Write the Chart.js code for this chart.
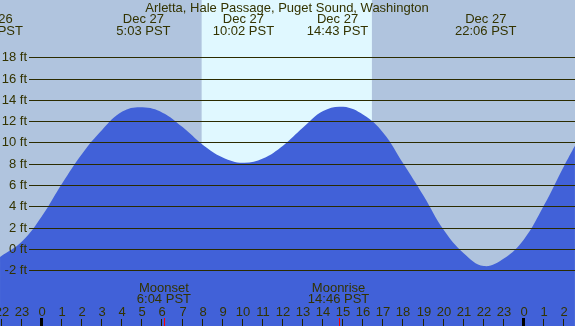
<!DOCTYPE html>
<html lang="en">
<head>
  <meta charset="UTF-8">
  <title>Arletta tide chart</title>
  <script src="https://cdn.jsdelivr.net/npm/chart.js@4.4.0/dist/chart.umd.min.js"></script>
  <style>
    body { margin: 0; background: #b0c4de; }
    canvas { display: block; }
  </style>
</head>
<body>
  <canvas id="tideChart" width="575" height="326"></canvas>
  <script>
    const title = 'Arletta, Hale Passage, Puget Sound, Washington';

    // hours after midnight Dec 27 (negative = Dec 26), tide height in ft
    const tideHours = [-2.09, -1, 0, 1, 2, 3, 4, 5, 6, 7, 8, 9, 10, 11, 12, 13, 14, 15, 16, 17, 18, 19, 20, 21, 22, 23, 24, 25, 26, 26.54];
    const tideFeet  = [-0.75, 0.7, 3.1, 6.15, 8.95, 11.2, 12.9, 13.3, 12.8, 11.45, 9.8, 8.6, 8.1, 8.5, 9.7, 11.4, 12.95, 13.35, 12.6, 10.9, 8.0, 5.0, 1.8, -0.4, -1.6, -0.9, 0.9, 4.1, 7.8, 9.7];

    const extremeHours = [-2.48, 5.05, 10.03, 14.72, 22.1];
    const extremeDates = ['Dec 26', 'Dec 27', 'Dec 27', 'Dec 27', 'Dec 27'];
    const extremeTimes = ['21:31 PST', '5:03 PST', '10:02 PST', '14:43 PST', '22:06 PST'];

    const moonHours = [6.07, 14.77];
    const moonNames = ['Moonset', 'Moonrise'];
    const moonTimes = ['6:04 PST', '14:46 PST'];

    const sunriseHour = 7.95;
    const sunsetHour = 16.43;

    const hourTicks = [-2, -1, 0, 1, 2, 3, 4, 5, 6, 7, 8, 9, 10, 11, 12, 13, 14, 15, 16, 17, 18, 19, 20, 21, 22, 23, 24, 25, 26];
    const heightTicks = [-2, 0, 2, 4, 6, 8, 10, 12, 14, 16, 18];

    const textColor = '#333300';
    const font = "13px 'Liberation Sans', Arial, sans-serif";

    const decorPlugin = {
      id: 'tideDecor',
      beforeDatasetsDraw(chart) {
        const ctx = chart.ctx;
        const x = chart.scales.x;
        const area = chart.chartArea;
        const x0 = x.getPixelForValue(sunriseHour);
        const x1 = x.getPixelForValue(sunsetHour);
        ctx.save();
        ctx.fillStyle = '#e0f8ff';
        ctx.fillRect(x0, area.top, x1 - x0, area.bottom - area.top);
        ctx.restore();
      },
      afterDatasetsDraw(chart) {
        const ctx = chart.ctx;
        const x = chart.scales.x;
        const y = chart.scales.y;
        const area = chart.chartArea;
        ctx.save();

        // height grid + labels
        ctx.strokeStyle = '#2b2b00';
        ctx.lineWidth = 1;
        ctx.font = font;
        ctx.fillStyle = textColor;
        ctx.textAlign = 'right';
        ctx.textBaseline = 'middle';
        heightTicks.forEach(v => {
          const py = Math.round(y.getPixelForValue(v)) + 0.5;
          ctx.beginPath();
          ctx.moveTo(29, py);
          ctx.lineTo(area.right, py);
          ctx.stroke();
          ctx.fillText(v + ' ft', 27, py);
        });

        // title and high/low labels
        ctx.textAlign = 'center';
        ctx.fillText(title, 287, 8);
        extremeHours.forEach((h, i) => {
          const px = x.getPixelForValue(h);
          ctx.fillText(extremeDates[i], px, 19);
          ctx.fillText(extremeTimes[i], px, 31);
        });

        // moon events
        moonHours.forEach((h, i) => {
          const px = x.getPixelForValue(h);
          ctx.fillText(moonNames[i], px, 288);
          ctx.fillText(moonTimes[i], px, 299);
        });

        // hour ticks
        hourTicks.forEach(h => {
          const px = Math.round(x.getPixelForValue(h));
          const midnight = h % 24 === 0;
          ctx.fillStyle = midnight ? '#000000' : '#222200';
          if (midnight) ctx.fillRect(px - 2, 318, 3, 8);
          else ctx.fillRect(px - 1, 319, 1, 7);
          ctx.fillStyle = textColor;
          ctx.fillText(String((h + 24) % 24), px, 312);
        });
        ctx.fillStyle = '#ff0000';
        moonHours.forEach(h => {
          const px = Math.round(x.getPixelForValue(h));
          ctx.fillRect(px, 318, 1, 8);
        });

        ctx.restore();
      }
    };

    new Chart(document.getElementById('tideChart'), {
      type: 'line',
      data: {
        datasets: [{
          data: tideHours.map((h, i) => ({ x: h, y: tideFeet[i] })),
          backgroundColor: '#4161d8',
          borderWidth: 0,
          pointRadius: 0,
          fill: 'start',
          tension: 0.4
        }]
      },
      options: {
        responsive: false,
        animation: false,
        layout: { padding: 0 },
        plugins: { legend: { display: false }, tooltip: { enabled: false } },
        scales: {
          x: { type: 'linear', min: -2.092, max: 26.544, display: false },
          y: { min: -7.23, max: 23.38, display: false }
        }
      },
      plugins: [decorPlugin]
    });
  </script>
</body>
</html>
